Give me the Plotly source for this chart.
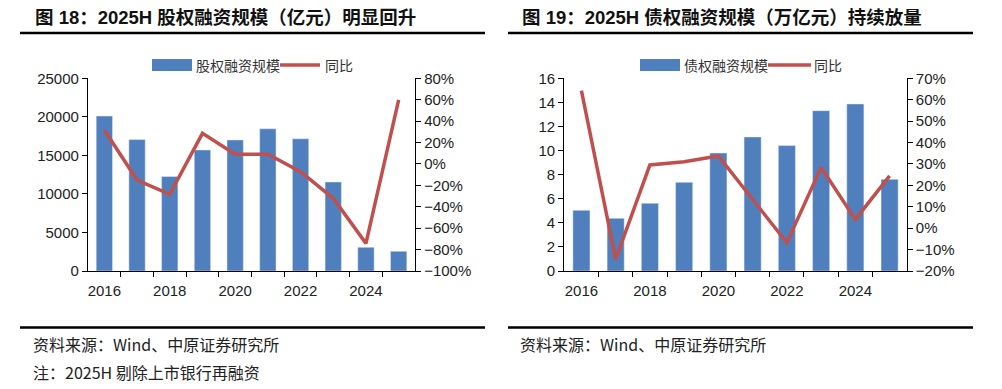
import plotly.graph_objects as go

W, H = 1002, 389

years = [2016, 2017, 2018, 2019, 2020, 2021, 2022, 2023, 2024, 2025]
year_labels = ["2016", "2018", "2020", "2022", "2024"]
label_years = [2016, 2018, 2020, 2022, 2024]

equity_scale = [20100, 17050, 12250, 15700, 17000, 18450, 17150, 11550, 3070, 2550]
equity_yoy = [0.317, -0.15, -0.284, 0.286, 0.09, 0.09, -0.072, -0.321, -0.742, 0.598]

debt_scale = [5.04, 4.37, 5.62, 7.36, 9.80, 11.13, 10.41, 13.31, 13.87, 7.61]
debt_yoy = [0.642, -0.145, 0.295, 0.31, 0.337, 0.136, -0.068, 0.284, 0.041, 0.244]

title_left = "图 18：2025H 股权融资规模（亿元）明显回升"
title_right = "图 19：2025H 债权融资规模（万亿元）持续放量"
bar_name_left = "股权融资规模"
bar_name_right = "债权融资规模"
line_name = "同比"
source_text = "资料来源：Wind、中原证券研究所"
note_text = "注：2025H 剔除上市银行再融资"

BAR = "#4F7FBD"
LINE = "#C0504D"
FONT = "Liberation Sans, Arial, Noto Sans CJK SC"
CJK = "Noto Sans CJK SC, Liberation Sans"

def px(x):
    return x / W

def py(y):
    return 1 - y / H

fig = go.Figure()

fig.add_trace(go.Bar(x=years, y=equity_scale, name=bar_name_left, marker_color=BAR,
                     xaxis="x", yaxis="y", showlegend=False))
fig.add_trace(go.Scatter(x=years, y=equity_yoy, name=line_name, mode="lines",
                         line=dict(color=LINE, width=3.5), xaxis="x", yaxis="y2", showlegend=False))
fig.add_trace(go.Bar(x=years, y=debt_scale, name=bar_name_right, marker_color=BAR,
                     xaxis="x2", yaxis="y3", showlegend=False))
fig.add_trace(go.Scatter(x=years, y=debt_yoy, name=line_name, mode="lines",
                         line=dict(color=LINE, width=3.5), xaxis="x2", yaxis="y4", showlegend=False))

ydom = [py(271), py(78.3)]
tickfont = dict(family=FONT, size=15, color="#222")

def xaxis_cfg(dom, anchor):
    return dict(domain=dom, anchor=anchor, range=[2015.5, 2025.5], automargin=False,
                tickmode="array", tickvals=label_years, ticktext=year_labels,
                ticks="outside", ticklen=6, tickcolor="rgba(0,0,0,0)",
                minor=dict(tickmode="array", tickvals=[y + 0.5 for y in years[:-1]],
                           ticks="outside", ticklen=5, tickcolor="#000", tickwidth=1.3,
                           showgrid=False),
                showline=True, linecolor="#000", linewidth=1.3,
                showgrid=False, zeroline=False, tickfont=tickfont, fixedrange=True)

def yaxis_cfg(anchor, rng, dtick, side, overlaying=None, fmt="d"):
    d = dict(domain=ydom, anchor=anchor, range=rng, dtick=dtick, tick0=rng[0], side=side,
             automargin=False, tickformat=fmt,
             ticks="outside", ticklen=5, tickcolor="#000", tickwidth=1.3,
             showline=True, linecolor="#000", linewidth=1.3,
             showgrid=False, zeroline=False, tickfont=tickfont, fixedrange=True)
    if overlaying:
        d["overlaying"] = overlaying
    return d

fig.update_layout(
    width=W, height=H,
    margin=dict(l=0, r=0, t=0, b=0, autoexpand=False),
    paper_bgcolor="white", plot_bgcolor="white",
    bargap=0.5,
    showlegend=False,
    xaxis=xaxis_cfg([px(88), px(415)], "y"),
    yaxis=yaxis_cfg("x", [0, 25000], 5000, "left"),
    yaxis2=yaxis_cfg("x", [-1.0, 0.8], 0.2, "right", overlaying="y", fmt=".0%"),
    xaxis2=xaxis_cfg([px(564.3), px(906.7)], "y3"),
    yaxis3=yaxis_cfg("x2", [0, 16], 2, "left"),
    yaxis4=yaxis_cfg("x2", [-0.2, 0.7], 0.1, "right", overlaying="y3", fmt=".0%"),
)

shapes = []
annotations = []

# title underlines and bottom rules
for x0, x1 in [(20, 485), (508, 973)]:
    shapes.append(dict(type="line", xref="paper", yref="paper", x0=px(x0), x1=px(x1),
                       y0=py(33), y1=py(33), line=dict(color="#000", width=2.7)))
    shapes.append(dict(type="line", xref="paper", yref="paper", x0=px(x0), x1=px(x1),
                       y0=py(327.5), y1=py(327.5), line=dict(color="#000", width=2.7)))

# titles
for x0, t in [(33, title_left), (520, title_right)]:
    annotations.append(dict(text="<b>" + t + "</b>", xref="paper", yref="paper",
                            x=px(x0), y=py(17.5), xanchor="left", yanchor="middle",
                            showarrow=False, font=dict(family=FONT, size=18.5, color="#111")))

# manual legends
def legend(rx0, rx1, tx, name, lx0, lx1, lt):
    shapes.append(dict(type="rect", xref="paper", yref="paper", x0=px(rx0), x1=px(rx1),
                       y0=py(71), y1=py(59), fillcolor=BAR, line=dict(width=0)))
    shapes.append(dict(type="line", xref="paper", yref="paper", x0=px(lx0), x1=px(lx1),
                       y0=py(65), y1=py(65), line=dict(color=LINE, width=3.5)))
    annotations.append(dict(text=name, xref="paper", yref="paper", x=px(tx), y=py(65),
                            xanchor="left", yanchor="middle", showarrow=False,
                            font=dict(family=CJK, size=14, color="#333")))
    annotations.append(dict(text=line_name, xref="paper", yref="paper", x=px(lt), y=py(65),
                            xanchor="left", yanchor="middle", showarrow=False,
                            font=dict(family=CJK, size=14, color="#333")))

legend(152, 192, 194, bar_name_left, 280, 320, 323)
legend(640, 680, 682, bar_name_right, 768, 811, 812)

# source / notes
for x0, y0, t in [(31, 344, source_text), (31, 372, note_text), (518, 344, source_text)]:
    annotations.append(dict(text=t, xref="paper", yref="paper", x=px(x0), y=py(y0),
                            xanchor="left", yanchor="middle", showarrow=False,
                            font=dict(family=CJK, size=16, color="#222")))

fig.update_layout(shapes=shapes, annotations=annotations)

# remove the default 8px page margin so the figure fills the window exactly; hide the modebar
fig.write_html("out.html", config={"displayModeBar": False},
               post_script="document.body.style.margin='0';")
